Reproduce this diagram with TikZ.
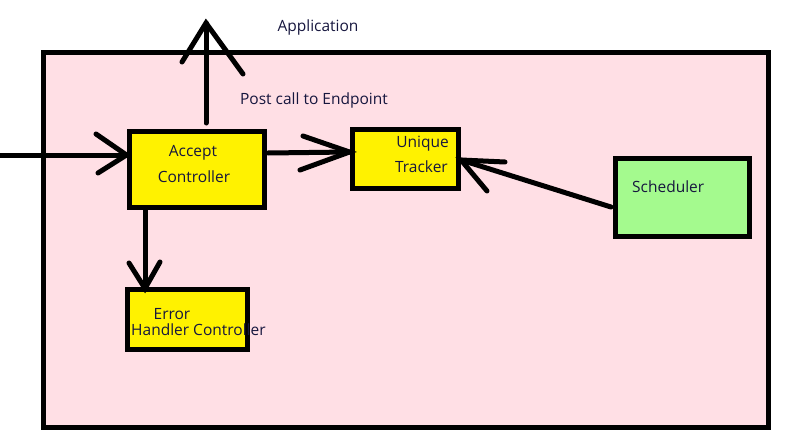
\documentclass[tikz,border=0pt]{standalone}
\usepackage{fontspec}
\setmainfont{Open Sans}
\definecolor{pinkbg}{HTML}{FFDFE5}
\definecolor{ybox}{HTML}{FFF200}
\definecolor{gbox}{HTML}{A4FA8E}
\definecolor{txt}{HTML}{16163E}
\begin{document}
\begin{tikzpicture}[x=1pt,y=-1pt,
  box/.style={draw=black,line width=5pt,inner sep=0pt},
  lbl/.style={text=txt,font=\fontsize{15.5}{18}\selectfont,inner sep=0pt},
  arr/.style={line width=5pt,line cap=round,black}]
\useasboundingbox (0,0) rectangle (785,442);
% outer application frame
\node[box,fill=pinkbg,minimum width=725,minimum height=375] (app) at (405.5,239.5) {};
% boxes
\node[box,fill=ybox,minimum width=135,minimum height=76] (acc) at (196.5,169) {};
\node[box,fill=ybox,minimum width=106,minimum height=59] (uni) at (405,158.5) {};
\node[box,fill=gbox,minimum width=134,minimum height=78] (sch) at (682,197) {};
\node[box,fill=ybox,minimum width=120,minimum height=60] (err) at (187,319) {};
% texts
\node[lbl] (tApp) at (318,27.5) {Application};
\node[lbl] (tPost) at (314,100.5) {Post call to Endpoint};
\node[lbl] (tAcc1) at (193,152.5) {Accept};
\node[lbl] (tAcc2) at (194,176.5) {Controller};
\node[lbl,anchor=east] (tUni1) at (449,143.5) {Unique};
\node[lbl,anchor=east] (tUni2) at (448,166.5) {Tracker};
\node[lbl,anchor=west] (tSch) at (632,186.5) {Scheduler};
\node[lbl] (tErr1) at (172,314.5) {Error};
\node[lbl,anchor=west] (tErr2) at (131,329.5) {Handler Controller};
% input arrow
\coordinate (in) at (0,155);
\coordinate (inTip) at (acc.west |- in);
\draw[arr] (in) -- (inTip);
\draw[arr] (96,134) -- (inTip) -- (98,173);
% accept -> unique
\coordinate (auS) at (268,153);
\coordinate (auT) at (uni.west |- 0,152);
\draw[arr] (auS) -- (auT);
\draw[arr] (303,136) -- (auT) -- (300,170);
% up arrow to application
\coordinate (upS) at (206,123);
\coordinate (upT) at (206,23);
\draw[arr] (upS) -- (upT);
\draw[arr] (182,62) -- (upT) -- (243,74);
% accept -> error
\coordinate (dnS) at (acc.south -| 145,0);
\coordinate (dnT) at (err.north -| 145,0);
\draw[arr] (dnS) -- ([yshift=-2pt]dnT);
\draw[arr] (129,263) -- ([yshift=-2pt]dnT) -- (160,262);
% scheduler -> unique
\coordinate (suS) at (611,207);
\coordinate (suT) at (461,160);
\draw[arr] (suS) -- (suT);
\draw[arr] (505,162) -- (suT) -- (487,191);
\end{tikzpicture}
\end{document}
